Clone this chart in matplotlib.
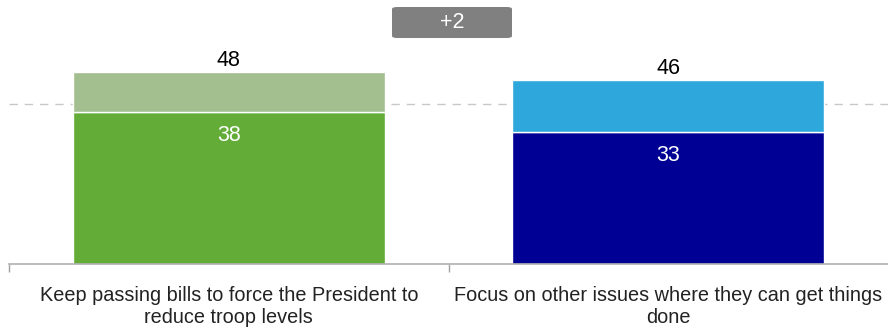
import matplotlib.pyplot as plt
from matplotlib.patches import FancyBboxPatch

plt.rcParams['font.family'] = ['Liberation Sans', 'DejaVu Sans']

categories = ['Keep passing bills to force the President to\nreduce troop levels',
              'Focus on other issues where they can get things\ndone']
totals = [48, 46]
inner = [38, 33]
reference = 40
diff_label = '+2'

inner_colors = ['#62AC37', '#000094']
outer_colors = ['#A3BF90', '#2EA8DC']

fig = plt.figure(figsize=(8.88, 3.30), dpi=100)
ax = fig.add_axes([9 / 888, 66 / 330, 879 / 888, 264 / 330])

x = range(len(categories))
ax.axhline(reference, color='#C8C8C8', lw=1, ls=(0, (6, 5)), zorder=0)
ax.bar(x, inner, width=0.71, color=inner_colors, edgecolor='white', lw=1, zorder=2)
ax.bar(x, [t - i for t, i in zip(totals, inner)], bottom=inner, width=0.71,
       color=outer_colors, edgecolor='white', lw=1, zorder=2)

for i in x:
    ax.text(i, totals[i] + 3.0, str(totals[i]), ha='center', va='center', fontsize=15.5, color='black')
    ax.text(i, inner[i] - 5.9, str(inner[i]), ha='center', va='center', fontsize=15.5, color='white')

ax.set_xlim(-0.5, 1.5)
ax.set_ylim(0, 66)
ax.set_yticks([])
ax.set_xticks(list(x))
ax.set_xticklabels(categories, fontsize=14.3, color='#222222', linespacing=1.2)
ax.set_xticks([-0.5, 0.5], minor=True)
ax.tick_params(axis='x', which='major', length=0, pad=16)
ax.tick_params(axis='x', which='minor', length=6, color='#A0A0A0', width=1)
for s in ['top', 'left', 'right']:
    ax.spines[s].set_visible(False)
ax.spines['bottom'].set_color('#B0B0B0')
ax.spines['bottom'].set_linewidth(1.2)

# difference badge
box = FancyBboxPatch((392 / 888, 1 - 38 / 330), 120 / 888, 31 / 330,
                     boxstyle='round,pad=0,rounding_size=0.006',
                     transform=fig.transFigure, facecolor='#808080', edgecolor='none')
fig.patches.append(box)
fig.text(452 / 888, 1 - 22 / 330, diff_label, ha='center', va='center', fontsize=15.5, color='white')

fig.savefig('out.png', dpi=100)
